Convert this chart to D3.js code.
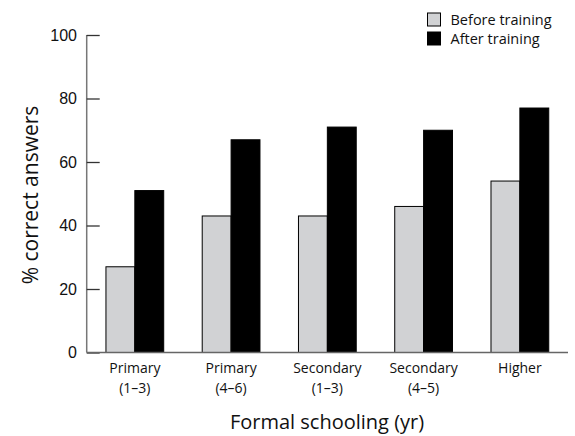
<!DOCTYPE html>
<html><head><meta charset="utf-8">
<script src="https://cdn.jsdelivr.net/npm/d3@7"></script>
<style>body{margin:0;background:#fff}svg{display:block}text{font-family:"Open Sans",sans-serif;fill:#111}</style>
</head><body>
<svg id="c" width="575" height="436"></svg>
<script>
const categories = [["Primary","(1\u20133)"],["Primary","(4\u20136)"],["Secondary","(1\u20133)"],["Secondary","(4\u20135)"],["Higher",""]];
const series = ["Before training","After training"];
const before = [27,43,43,46,54];
const after = [51,67,71,70,77];
const yTicks = [0,20,40,60,80,100];
const colors = ["#d1d2d4","#000000"];

const svg = d3.select("#c");
const x0 = d3.scaleBand().domain(d3.range(categories.length)).range([86.7,568]).paddingInner(0.4).paddingOuter(0.2);
const x1 = d3.scaleBand().domain(series).range([0,x0.bandwidth()]);
const y = d3.scaleLinear().domain([0,100]).range([352.5,35]);

// bars
const data = categories.map((c,i)=>({i, vals:[before[i],after[i]]}));
const g = svg.append("g");
g.selectAll("g.grp").data(data).join("g").attr("class","grp")
 .attr("transform",d=>`translate(${x0(d.i)},0)`)
 .selectAll("rect").data(d=>d.vals.map((v,k)=>({v,k}))).join("rect")
 .attr("x",d=>x1(series[d.k])).attr("width",x1.bandwidth())
 .attr("y",d=>y(d.v)).attr("height",d=>y(0)-y(d.v))
 .attr("fill",d=>colors[d.k]).attr("stroke","#000").attr("stroke-width",1);

// y axis
const ya = svg.append("g").attr("transform","translate(86.7,0)")
 .call(d3.axisRight(y).tickValues(yTicks).tickSize(13).tickFormat(""));
ya.select(".domain").attr("stroke","#777").attr("stroke-width",1.5).attr("d",`M0,${y(100)}V${y(0)}`);
ya.selectAll(".tick line").attr("stroke","#333").attr("stroke-width",1.3);
svg.append("g").selectAll("text").data(yTicks).join("text")
 .attr("x",77).attr("y",d=>y(d)).attr("dy","0.36em").attr("text-anchor","end")
 .style("font-family","'Liberation Sans',Arial,sans-serif")
 .attr("font-size",16).text(d=>d);

// x axis baseline
svg.append("line").attr("x1",86.7).attr("x2",568).attr("y1",y(0)).attr("y2",y(0)).attr("stroke","#666").attr("stroke-width",1.5);

// category labels
const cl = svg.append("g").selectAll("text").data(categories).join("text")
 .attr("text-anchor","middle").attr("font-size",14)
 .attr("transform",(d,i)=>`translate(${x0(i)+x0.bandwidth()/2},0)`);
cl.append("tspan").attr("x",0).attr("y",373).text(d=>d[0]);
cl.append("tspan").attr("x",0).attr("y",393).text(d=>d[1]);

// axis titles
svg.append("text").attr("x",327).attr("y",429).attr("text-anchor","middle").attr("font-size",20).text("Formal schooling (yr)");
svg.append("text").attr("transform","translate(38,195) rotate(-90)").attr("text-anchor","middle").attr("font-size",21).text("% correct answers");

// legend
const lg = svg.append("g").selectAll("g").data(series).join("g")
 .attr("transform",(d,i)=>`translate(427.5,${13+i*19})`);
lg.append("rect").attr("width",13).attr("height",13).attr("fill",(d,i)=>colors[i]).attr("stroke","#000").attr("stroke-width",1);
lg.append("text").attr("x",23).attr("y",6.5).attr("dy","0.36em").attr("font-size",14.5).text(d=>d);
</script>
</body></html>
